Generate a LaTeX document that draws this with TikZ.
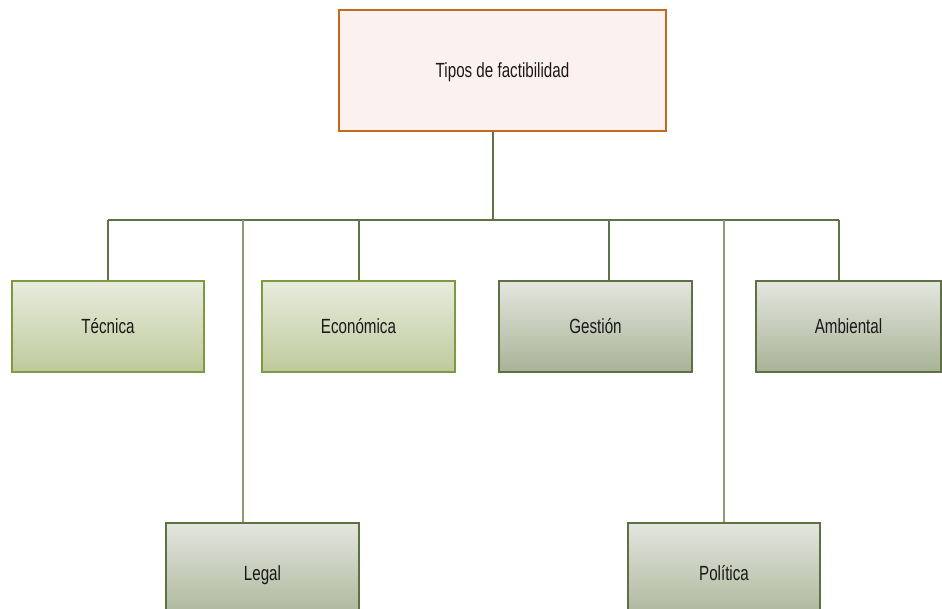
\documentclass[tikz,border=0pt]{standalone}
\usepackage{fontspec}
\setmainfont[FakeStretch=0.74]{Liberation Sans}
\definecolor{topborder}{RGB}{197,105,30}
\definecolor{topfill}{RGB}{251,242,239}
\definecolor{lgborder}{RGB}{126,154,62}
\definecolor{lgtop}{RGB}{232,236,222}
\definecolor{lgbot}{RGB}{190,202,155}
\definecolor{dgborder}{RGB}{94,113,67}
\definecolor{dgtop}{RGB}{228,230,223}
\definecolor{dgbot}{RGB}{168,179,150}
\definecolor{connc}{RGB}{95,115,70}
\definecolor{conncl}{RGB}{140,155,115}
\definecolor{txt}{RGB}{25,25,25}
\begin{document}
\begin{tikzpicture}[x=1pt,y=-1pt,
  base/.style={rectangle, inner sep=0pt, line width=2pt, text=txt,
    text height=17.5pt, text depth=2.5pt,
    font=\fontsize{20.5}{24}\selectfont},
  topbox/.style={base, draw=topborder, fill=topfill,
    minimum width=327pt, minimum height=121pt},
  lgbox/.style={base, draw=lgborder, top color=lgtop, bottom color=lgbot,
    minimum width=192pt, minimum height=91pt},
  dgbox/.style={base, draw=dgborder, top color=dgtop, bottom color=dgbot,
    minimum width=192pt, minimum height=91pt},
  conn/.style={draw=connc, line width=1.6pt},
  connl/.style={draw=conncl, line width=1.3pt}]
\fill[white] (0,0) rectangle (942,609);
\useasboundingbox (0,0) rectangle (942,609);
\clip (0,0) rectangle (942,609);
% hub coordinates
\coordinate (hc) at (493,220);
\coordinate (hte) at (108,220);
\coordinate (hle) at (243,220);
\coordinate (hec) at (359,220);
\coordinate (hge) at (609,220);
\coordinate (hpo) at (724,220);
\coordinate (ham) at (839,220);
% nodes
\node[topbox] (top) at (502.5,70.5) {Tipos de factibilidad};
\node[lgbox] (tec) at (108,326.5) {Técnica};
\node[lgbox, minimum width=193pt] (eco) at (358.5,326.5) {Económica};
\node[dgbox, minimum width=193pt] (ges) at (595.5,326.5) {Gestión};
\node[dgbox, minimum width=185pt] (amb) at (848.5,326.5) {Ambiental};
\node[dgbox, minimum width=193pt, minimum height=100pt] (leg) at (262.5,573) {Legal};
\node[dgbox, minimum height=100pt] (pol) at (724,573) {Política};
% connectors
\draw[conn] (top.south -| hc) -- (hc);
\draw[conn] (hte) -- (ham);
\draw[conn] (hte) -- (tec.north);
\draw[conn] (hec) -- (eco.north -| hec);
\draw[conn] (hge) -- (ges.north -| hge);
\draw[conn] (ham) -- (amb.north -| ham);
\draw[connl] (hle) -- (leg.north -| hle);
\draw[connl] (hpo) -- (pol.north -| hpo);
\end{tikzpicture}
\end{document}
